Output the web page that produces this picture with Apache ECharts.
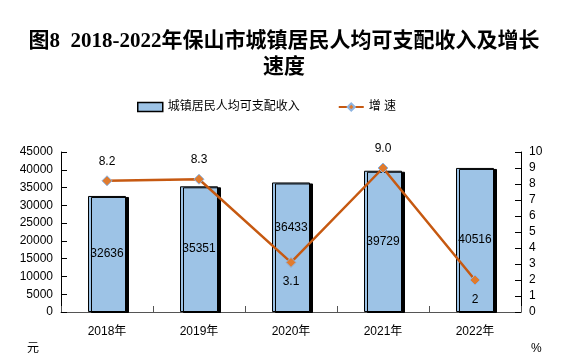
<!DOCTYPE html>
<html><head><meta charset="utf-8">
<script src="https://cdn.jsdelivr.net/npm/echarts@6/dist/echarts.min.js"></script>
<style>html,body{margin:0;padding:0;background:#fff}#c{width:568px;height:360px}</style>
</head><body><div id="c"></div>
<script>
const categories = ['2018年','2019年','2020年','2021年','2022年'];
const income = [32636, 35351, 36433, 39729, 40516];
const growth = [8.2, 8.3, 3.1, 9.0, 2];
const growthLabels = ['8.2','8.3','3.1','9.0','2'];
const growthLabelPos = ['top','top','bottom','top','bottom'];
const leftTicks = {min:0, max:45000, interval:5000};
const rightTicks = {min:0, max:10, interval:1};

const chart = echarts.init(document.getElementById('c'), null, {renderer:'canvas'});
const txt = '#000';
const sans = 'Liberation Sans, Arial, Noto Sans CJK SC, sans-serif';
chart.setOption({
  animation:false,
  backgroundColor:'#fff',
  title:{
    text:'图8  2018-2022年保山市城镇居民人均可支配收入及增长\n速度',
    left:'center', top:24,
    textStyle:{fontFamily:'Liberation Serif, Noto Sans CJK SC, serif', fontWeight:'bold', fontSize:21, color:'#000', lineHeight:26}
  },
  legend:{
    top:96, left:132, itemGap:38, itemWidth:25, itemHeight:9,
    textStyle:{fontFamily:sans, fontSize:12, color:txt},
    data:[
      {name:'城镇居民人均可支配收入', icon:'rect', itemStyle:{color:'#9DC3E6', borderColor:'#000', borderWidth:1.5}},
      {name:'增 速'}
    ]
  },
  grid:{left:61, right:47, top:152, bottom:48},
  xAxis:{
    type:'category', data:categories,
    axisLine:{lineStyle:{color:'#555', width:1}},
    axisTick:{show:true, inside:true, length:6, lineStyle:{color:'#555'}},
    axisLabel:{fontFamily:sans, fontSize:12, color:txt, margin:14}
  },
  yAxis:[
    {type:'value', min:leftTicks.min, max:leftTicks.max, interval:leftTicks.interval,
     splitLine:{show:false},
     axisLine:{show:true, lineStyle:{color:'#000'}},
     axisTick:{show:true, inside:true, length:6, lineStyle:{color:'#000'}},
     axisLabel:{fontFamily:sans, fontSize:12, color:txt, margin:8, formatter:v=>String(v)}},
    {type:'value', min:rightTicks.min, max:rightTicks.max, interval:rightTicks.interval,
     splitLine:{show:false},
     axisLine:{show:true, lineStyle:{color:'#000'}},
     axisTick:{show:true, inside:true, length:6, lineStyle:{color:'#000'}},
     axisLabel:{fontFamily:sans, fontSize:12, color:txt, margin:8, formatter:v=>String(v)}}
  ],
  graphic:[
    {type:'text', left:27, top:341, style:{text:'元', font:'12px Noto Sans CJK SC', fill:'#000'}},
    {type:'text', left:531, top:343, style:{text:'%', font:'12px Liberation Sans', fill:'#000'}}
  ],
  series:[
    {name:'城镇居民人均可支配收入', type:'bar', yAxisIndex:0, barWidth:38,
     data: income.map((v,i)=>({value:v, label: i===2 ? {offset:[0,-20]} : {}})),
     itemStyle:{color:'#9DC3E6', borderColor:'#000', borderWidth:1,
       shadowColor:'#000', shadowBlur:0, shadowOffsetX:3, shadowOffsetY:1},
     label:{show:true, position:'inside', fontFamily:sans, fontSize:12, color:'#000'}
    },
    {name:'增 速', type:'line', yAxisIndex:1, z:5,
     data: growth.map((v,i)=>({value:v, label:{position:growthLabelPos[i], formatter:growthLabels[i]}})),
     symbol:'diamond', symbolSize:10,
     lineStyle:{color:'#C65911', width:2.5},
     itemStyle:{color:'#E07B2E', borderColor:'#8DB4E2', borderWidth:1},
     label:{show:true, fontFamily:sans, fontSize:12, color:'#000', distance:8}
    }
  ]
});
</script></body></html>
